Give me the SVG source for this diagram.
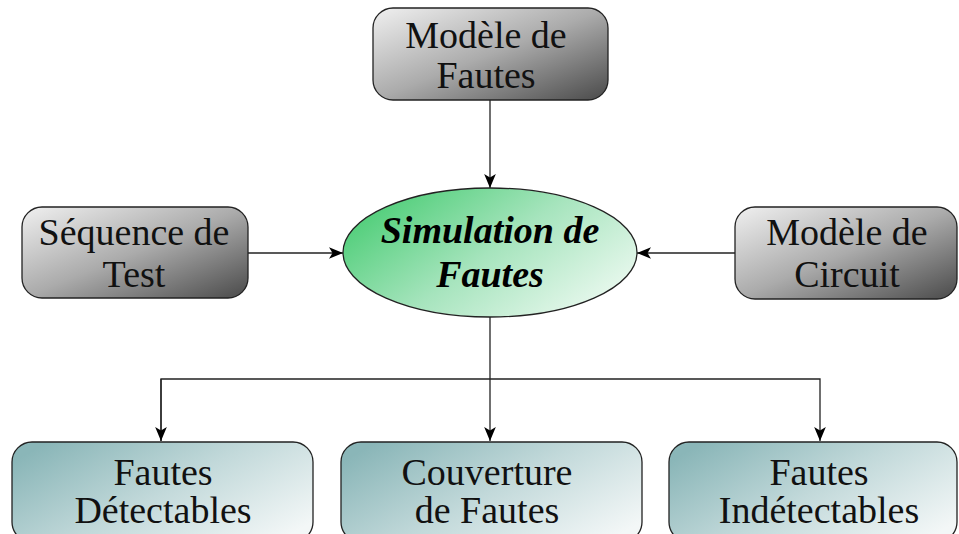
<svg xmlns="http://www.w3.org/2000/svg" width="959" height="534" viewBox="0 0 959 534">
<defs>
<linearGradient id="gGray" x1="0" y1="0" x2="1" y2="1">
<stop offset="0" stop-color="#f0f0f0"/>
<stop offset="0.5" stop-color="#ababab"/>
<stop offset="1" stop-color="#4a4a4a"/>
</linearGradient>
<linearGradient id="gGreen" x1="0" y1="0.2" x2="1" y2="0.8">
<stop offset="0" stop-color="#48cc73"/>
<stop offset="0.5" stop-color="#a6e4bd"/>
<stop offset="1" stop-color="#eefaf2"/>
</linearGradient>
<linearGradient id="gTeal" x1="0" y1="0.2" x2="1" y2="0.8">
<stop offset="0" stop-color="#8ab6b8"/>
<stop offset="0.5" stop-color="#c2d9da"/>
<stop offset="1" stop-color="#f3f7f7"/>
</linearGradient>
<marker id="arr" viewBox="0 0 12 10" refX="12" refY="5" markerWidth="14" markerHeight="12" markerUnits="userSpaceOnUse" orient="auto">
<path d="M0,0 L12,5 L0,10 L3,5 Z" fill="#000"/>
</marker>
</defs>
<style>
.box{stroke:#222;stroke-width:1.3}
.t{font-family:"Liberation Serif","Times New Roman",serif;font-size:38px;fill:#111;text-anchor:middle}
.tb{font-family:"Liberation Serif","Times New Roman",serif;font-size:38px;font-weight:bold;font-style:italic;fill:#000;text-anchor:middle}
.c{fill:none;stroke:#222;stroke-width:1.3}
</style>
<g id="connectors">
<path class="c" d="M490,100 V188" marker-end="url(#arr)"/>
<path class="c" d="M248,253 H343" marker-end="url(#arr)"/>
<path class="c" d="M735,253 H637" marker-end="url(#arr)"/>
<path class="c" d="M490,317 V441" marker-end="url(#arr)"/>
<path class="c" d="M161,441 V379 H820 V441" marker-end="url(#arr)"/>
<path class="c" d="M161,379 V441" marker-end="url(#arr)"/>
</g>
<g id="modele-fautes">
<rect class="box" x="373" y="8" width="235" height="92" rx="20" fill="url(#gGray)"/>
<text class="t" x="486" y="48">Modèle de</text>
<text class="t" x="486" y="88">Fautes</text>
</g>
<g id="sequence-test">
<rect class="box" x="22" y="207" width="226" height="91" rx="20" fill="url(#gGray)"/>
<text class="t" x="134" y="245">Séquence de</text>
<text class="t" x="134" y="287">Test</text>
</g>
<g id="simulation">
<ellipse class="box" cx="490" cy="252.5" rx="147" ry="64.5" fill="url(#gGreen)"/>
<text class="tb" x="490" y="243">Simulation de</text>
<text class="tb" x="490" y="287">Fautes</text>
</g>
<g id="modele-circuit">
<rect class="box" x="735" y="207" width="222" height="92" rx="20" fill="url(#gGray)"/>
<text class="t" x="847" y="245">Modèle de</text>
<text class="t" x="847" y="287">Circuit</text>
</g>
<g id="fautes-detectables">
<rect class="box" x="12" y="442" width="301" height="100" rx="20" fill="url(#gTeal)"/>
<text class="t" x="163" y="485">Fautes</text>
<text class="t" x="163" y="523">Détectables</text>
</g>
<g id="couverture">
<rect class="box" x="341" y="442" width="301" height="100" rx="20" fill="url(#gTeal)"/>
<text class="t" x="487" y="485">Couverture</text>
<text class="t" x="487" y="523">de Fautes</text>
</g>
<g id="fautes-indetectables">
<rect class="box" x="669" y="442" width="288" height="100" rx="20" fill="url(#gTeal)"/>
<text class="t" x="819" y="485">Fautes</text>
<text class="t" x="819" y="523">Indétectables</text>
</g>
</svg>
